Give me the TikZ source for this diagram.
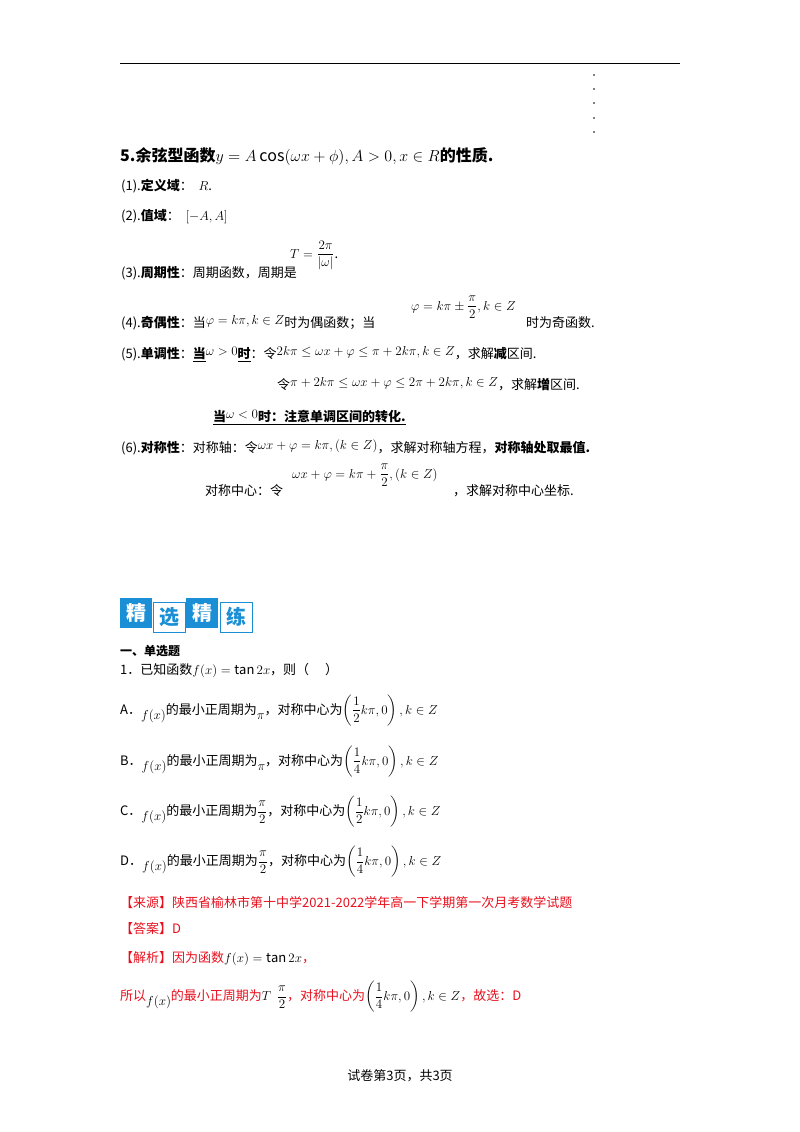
\RequirePackage{fix-cm}
\documentclass[tikz,border=0pt]{standalone}
\usepackage{amsmath,amssymb}
\usepackage{fontspec}
\setmainfont{Noto Sans CJK SC}
\definecolor{bl}{HTML}{1A8FD6}
\definecolor{rd}{HTML}{E8101E}
\begin{document}
\begin{tikzpicture}[x=1pt,y=-1pt,
 t/.style={anchor=base west,inner sep=0pt,font=\fontsize{13}{15}\selectfont},
 r/.style={t,text=rd},
 bx/.style={minimum width=32,minimum height=30,inner sep=0pt,font=\fontsize{20}{22}\selectfont\bfseries}]
\useasboundingbox (0,0) rectangle (800,1132);
\draw[line width=0.8] (120,63) -- (680,63);
\foreach \yy in {75,89,103,118,132} \fill (594,\yy) circle (0.8);
\node[t,font=\fontsize{16}{18}\selectfont\bfseries] (h) at (120,161) {5.余弦型函数$y=A\cos(\omega x+\phi),A>0,x\in R$的性质.};
\node[t] (l1) at (121,190) {(1).\textbf{定义域}：\ \ $R$.};
\node[t] (l2) at (121,220) {(2).\textbf{值域}：\ \ $[-A,A]$};
\node[t] (l3) at (121,277) {(3).\textbf{周期性}：周期函数，周期是};
\node[t] (l3m) at (290,258) {$T=\dfrac{2\pi}{|\omega|}$.};
\node[t] (l4) at (121,327) {(4).\textbf{奇偶性}：当\raisebox{3pt}{$\varphi=k\pi,k\in Z$}时为偶函数；当};
\node[t] (l4m) at (411,310) {$\varphi=k\pi\pm\dfrac{\pi}{2},k\in Z$};
\node[t] (l4b) at (526,327) {时为奇函数.};
\node[t] (l5) at (121,358) {(5).\textbf{单调性}：\underline{\textbf{当}}\raisebox{3pt}{$\omega>0$}\underline{\textbf{时}}：令\raisebox{3pt}{$2k\pi\le\omega x+\varphi\le\pi+2k\pi,k\in Z$}，求解\textbf{减}区间.};
\node[t] (l5b) at (277,389) {令\raisebox{3pt}{$\pi+2k\pi\le\omega x+\varphi\le2\pi+2k\pi,k\in Z$}，求解\textbf{增}区间.};
\node[t] (l5c) at (213,421) {\underline{\textbf{当}\raisebox{3pt}{$\omega<0$}\textbf{时：注意单调区间的转化.}}};
\node[t] (l6) at (121,452) {(6).\textbf{对称性}：对称轴：令\raisebox{3pt}{$\omega x+\varphi=k\pi,(k\in Z)$}，求解对称轴方程，\textbf{对称轴处取最值.}};
\node[t] (l6b) at (205,495) {对称中心：令};
\node[t] (l6m) at (292,478) {$\omega x+\varphi=k\pi+\dfrac{\pi}{2},(k\in Z)$};
\node[t] (l6c) at (453,495) {，求解对称中心坐标.};
% banner
\node[bx,fill=bl,text=white] (b1) at (136,613) {精};
\node[bx,draw=bl,line width=1,fill=white,text=bl] (b2) at (169,617) {选};
\node[bx,fill=bl,text=white] (b3) at (202,613) {精};
\node[bx,draw=bl,line width=1,fill=white,text=bl] (b4) at (236,617) {练};
\node[t,font=\fontsize{12}{14}\selectfont\bfseries] (s1) at (120,655) {一、单选题};
\node[t] (q) at (120,674) {1．已知函数$f(x)=\tan 2x$，则（\quad\ ）};
\node[t] (qa) at (120,714) {A．\raisebox{-5pt}{$f(x)$}的最小正周期为\raisebox{-5pt}{$\pi$}，对称中心为$\left(\dfrac12k\pi,0\right),k\in Z$};
\node[t] (qb) at (120,765) {B．\raisebox{-5pt}{$f(x)$}的最小正周期为\raisebox{-5pt}{$\pi$}，对称中心为$\left(\dfrac14k\pi,0\right),k\in Z$};
\node[t] (qc) at (120,815) {C．\raisebox{-5pt}{$f(x)$}的最小正周期为$\dfrac{\pi}{2}$，对称中心为$\left(\dfrac12k\pi,0\right),k\in Z$};
\node[t] (qd) at (120,865) {D．\raisebox{-5pt}{$f(x)$}的最小正周期为$\dfrac{\pi}{2}$，对称中心为$\left(\dfrac14k\pi,0\right),k\in Z$};
\node[r] (src) at (120,907) {【来源】陕西省榆林市第十中学2021-2022学年高一下学期第一次月考数学试题};
\node[r] (ans) at (120,933) {【答案】D};
\node[r] (ex) at (120,962) {【解析】因为函数\textcolor{black}{$f(x)=\tan 2x$}，};
\node[r] (ex2) at (120,1000) {所以\raisebox{-5pt}{\textcolor{black}{$f(x)$}}的最小正周期为\textcolor{black}{$T\ \ \dfrac{\pi}{2}$}，对称中心为\textcolor{black}{$\left(\dfrac14k\pi,0\right),k\in Z$}，故选：D};
\node[t,anchor=base] (ft) at (400,1080) {试卷第3页，共3页};
\end{tikzpicture}
\end{document}
